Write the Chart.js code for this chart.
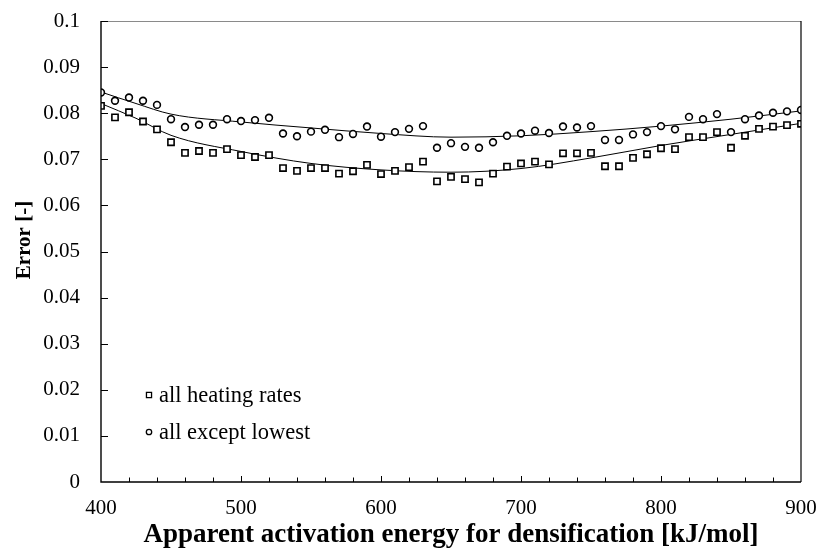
<!DOCTYPE html>
<html>
<head>
<meta charset="utf-8">
<script src="https://cdn.jsdelivr.net/npm/chart.js@4.4.1/dist/chart.umd.min.js"></script>
<style>
  html, body { margin: 0; padding: 0; background: #fff; }
  #wrap { width: 821px; height: 551px; }
</style>
</head>
<body>
<div id="wrap"><canvas id="c" width="821" height="551"></canvas></div>
<script>
// Apparent activation energy [kJ/mol]
const energy = [400, 410, 420, 430, 440, 450, 460, 470, 480, 490,
                500, 510, 520, 530, 540, 550, 560, 570, 580, 590,
                600, 610, 620, 630, 640, 650, 660, 670, 680, 690,
                700, 710, 720, 730, 740, 750, 760, 770, 780, 790,
                800, 810, 820, 830, 840, 850, 860, 870, 880, 890, 900];

// Error, fitted with all heating rates
const errorAllRates = [0.0816, 0.0791, 0.0802, 0.0782, 0.0765, 0.0737, 0.0714, 0.0718, 0.0714, 0.0722,
                       0.0709, 0.0705, 0.0709, 0.0681, 0.0675, 0.0681, 0.0681, 0.0669, 0.0674, 0.0688,
                       0.0668, 0.0675, 0.0683, 0.0695, 0.0652, 0.0662, 0.0657, 0.0650, 0.0669, 0.0684,
                       0.0691, 0.0695, 0.0689, 0.0713, 0.0713, 0.0714, 0.0685, 0.0685, 0.0703, 0.0711,
                       0.0724, 0.0722, 0.0748, 0.0748, 0.0759, 0.0725, 0.0751, 0.0766, 0.0771, 0.0774, 0.0777];

// Error, fitted with all heating rates except the lowest
const errorExceptLowest = [0.0845, 0.0827, 0.0834, 0.0827, 0.0818, 0.0787, 0.0770, 0.0775, 0.0775, 0.0787,
                           0.0783, 0.0785, 0.0790, 0.0756, 0.0750, 0.0760, 0.0764, 0.0748, 0.0755, 0.0771,
                           0.0749, 0.0759, 0.0766, 0.0772, 0.0725, 0.0735, 0.0727, 0.0725, 0.0737, 0.0751,
                           0.0756, 0.0762, 0.0757, 0.0771, 0.0769, 0.0772, 0.0742, 0.0742, 0.0754, 0.0759,
                           0.0772, 0.0765, 0.0792, 0.0787, 0.0798, 0.0759, 0.0787, 0.0795, 0.0801, 0.0804, 0.0807];

// Smooth trend curves through each series
const trendEnergy = [400, 425, 450, 500, 550, 600, 650, 700, 750, 800, 850, 900];
const trendAllRates = [0.0821, 0.0789, 0.0752, 0.0717, 0.0691, 0.0677, 0.0672, 0.0680, 0.0703, 0.0730, 0.0754, 0.0778];
const trendExceptLowest = [0.0846, 0.0821, 0.0798, 0.0781, 0.0768, 0.0756, 0.0748, 0.0751, 0.0760, 0.0772, 0.0787, 0.0805];

// Axis ticks
const xTicks = [400, 500, 600, 700, 800, 900];
const yTicks = [0, 0.01, 0.02, 0.03, 0.04, 0.05, 0.06, 0.07, 0.08, 0.09, 0.1];
const yTickLabels = ['0', '0.01', '0.02', '0.03', '0.04', '0.05', '0.06', '0.07', '0.08', '0.09', '0.1'];

const seriesLabels = ['all heating rates', 'all except lowest'];
const yTitle = 'Error [-]';

const pairs = (xs, ys) => xs.map((x, i) => ({ x: x, y: ys[i] }));

const SERIF = '"Liberation Serif", "Times New Roman", serif';

// Frame, inward ticks, y title and the in-plot legend
const framePlugin = {
  id: 'frame',
  afterDatasetsDraw(chart) {
    const { ctx, chartArea: a, scales } = chart;
    const xs = scales.x, ys = scales.y;
    ctx.save();
    // top and right borders
    ctx.strokeStyle = '#8a8a8a';
    ctx.lineWidth = 1.2;
    ctx.beginPath();
    ctx.moveTo(a.left, a.top + 0.5);
    ctx.lineTo(a.right, a.top + 0.5);
    ctx.stroke();
    ctx.strokeStyle = '#000';
    ctx.lineWidth = 1.2;
    ctx.beginPath();
    ctx.moveTo(a.right, a.top);
    ctx.lineTo(a.right, a.bottom);
    ctx.stroke();
    // axes
    ctx.lineWidth = 1.4;
    ctx.beginPath();
    ctx.moveTo(a.left, a.top);
    ctx.lineTo(a.left, a.bottom);
    ctx.lineTo(a.right, a.bottom);
    ctx.stroke();
    // x ticks: minor every 20, major every 100
    ctx.lineWidth = 1;
    for (let v = 420; v < 900; v += 20) {
      const px = Math.round(xs.getPixelForValue(v)) + 0.5;
      const len = (v % 100 === 0) ? 6 : 4.5;
      ctx.beginPath();
      ctx.moveTo(px, a.bottom);
      ctx.lineTo(px, a.bottom - len);
      ctx.stroke();
    }
    // y ticks
    yTicks.forEach(v => {
      if (v === 0) return;
      const py = Math.round(ys.getPixelForValue(v)) + 0.5;
      ctx.beginPath();
      ctx.moveTo(a.left, py);
      ctx.lineTo(a.left + 7, py);
      ctx.stroke();
    });
    // y axis title
    ctx.save();
    ctx.translate(25, 240);
    ctx.rotate(-Math.PI / 2);
    ctx.font = 'bold 21px ' + SERIF;
    ctx.fillStyle = '#000';
    ctx.textAlign = 'center';
    ctx.textBaseline = 'middle';
    ctx.fillText(yTitle, 0, 0);
    ctx.restore();
    // legend
    const entries = [
      { label: seriesLabels[0], style: 'rect', y: 395 },
      { label: seriesLabels[1], style: 'circle', y: 432 }
    ];
    ctx.font = '22.5px ' + SERIF;
    ctx.textBaseline = 'middle';
    ctx.textAlign = 'left';
    entries.forEach(e => {
      ctx.strokeStyle = '#000';
      ctx.fillStyle = '#fff';
      ctx.lineWidth = 1.3;
      Chart.helpers.drawPoint(ctx, { pointStyle: e.style, radius: e.style === 'rect' ? 3.6 : 2.7, borderWidth: 1.3 }, 149, e.y);
      ctx.fillStyle = '#000';
      ctx.fillText(e.label, 159, e.y + 1);
    });
    ctx.restore();
  }
};

new Chart(document.getElementById('c'), {
  type: 'scatter',
  data: {
    datasets: [
      {
        label: 'trend ' + seriesLabels[0],
        type: 'line',
        data: pairs(trendEnergy, trendAllRates),
        borderColor: '#000',
        borderWidth: 1,
        pointRadius: 0,
        cubicInterpolationMode: 'monotone',
        fill: false,
        order: 2
      },
      {
        label: 'trend ' + seriesLabels[1],
        type: 'line',
        data: pairs(trendEnergy, trendExceptLowest),
        borderColor: '#000',
        borderWidth: 1,
        pointRadius: 0,
        cubicInterpolationMode: 'monotone',
        fill: false,
        order: 2
      },
      {
        label: seriesLabels[0],
        data: pairs(energy, errorAllRates),
        pointStyle: 'rect',
        pointRadius: 4.4,
        pointBorderWidth: 1.6,
        pointBorderColor: '#000',
        pointBackgroundColor: '#fff',
        order: 1
      },
      {
        label: seriesLabels[1],
        data: pairs(energy, errorExceptLowest),
        pointStyle: 'circle',
        pointRadius: 3.4,
        pointBorderWidth: 1.6,
        pointBorderColor: '#000',
        pointBackgroundColor: '#fff',
        order: 1
      }
    ]
  },
  options: {
    responsive: false,
    animation: false,
    events: [],
    layout: { padding: { left: 0, right: 20, top: 21, bottom: 0 } },
    plugins: {
      legend: { display: false },
      tooltip: { enabled: false }
    },
    scales: {
      x: {
        type: 'linear',
        min: 400,
        max: 900,
        afterBuildTicks(scale) { scale.ticks = xTicks.map(v => ({ value: v })); },
        afterFit(scale) {
          scale.height = 69;
          scale.paddingLeft = 0;
          scale.paddingRight = 0;
        },
        grid: { display: false, drawTicks: false },
        border: { display: false },
        ticks: {
          color: '#000',
          font: { family: SERIF, size: 21 },
          padding: 14,
          maxRotation: 0
        },
        title: {
          display: true,
          text: 'Apparent activation energy for densification [kJ/mol]',
          color: '#000',
          font: { family: SERIF, size: 27, weight: 'bold' },
          padding: { top: 0, bottom: 0 }
        }
      },
      y: {
        type: 'linear',
        min: 0,
        max: 0.1,
        afterBuildTicks(scale) { scale.ticks = yTicks.map(v => ({ value: v })); },
        afterFit(scale) {
          scale.width = 101;
          scale.paddingTop = 0;
          scale.paddingBottom = 0;
        },
        grid: { display: false, drawTicks: false },
        border: { display: false },
        ticks: {
          color: '#000',
          font: { family: SERIF, size: 21 },
          padding: 21,
          callback(value) {
            const i = yTicks.findIndex(t => Math.abs(t - value) < 1e-9);
            return i >= 0 ? yTickLabels[i] : '';
          }
        },
        title: { display: false }
      }
    }
  },
  plugins: [framePlugin]
});
</script>
</body>
</html>
